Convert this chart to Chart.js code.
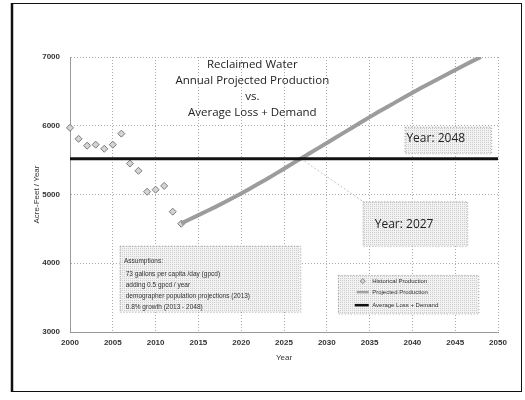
<!DOCTYPE html>
<html>
<head>
<meta charset="utf-8">
<script src="https://cdn.jsdelivr.net/npm/chart.js@4.4.1/dist/chart.umd.min.js"></script>
<style>
  html, body { margin: 0; padding: 0; background: #fff; }
  #wrap { width: 525px; height: 400px; position: relative; }
</style>
</head>
<body>
<div id="wrap"><canvas id="c" width="525" height="400"></canvas></div>
<script>
// Historical reclaimed water production (acre-feet / year)
const histYears = [2000, 2001, 2002, 2003, 2004, 2005, 2006, 2007, 2008, 2009, 2010, 2011, 2012, 2013];
const histValues = [5970, 5810, 5710, 5725, 5665, 5725, 5885, 5450, 5345, 5040, 5070, 5125, 4750, 4575];

// Projected production 2013 - 2048
const projYears = [2013, 2014, 2015, 2016, 2017, 2018, 2019, 2020, 2021, 2022, 2023, 2024,
                   2025, 2026, 2027, 2028, 2029, 2030, 2031, 2032, 2033, 2034, 2035, 2036,
                   2037, 2038, 2039, 2040, 2041, 2042, 2043, 2044, 2045, 2046, 2047, 2048];
const projValues = [4580, 4640, 4700, 4760, 4820, 4885, 4950, 5015, 5085, 5155, 5225, 5300,
                    5375, 5450, 5525, 5600, 5675, 5750, 5825, 5900, 5975, 6050, 6125, 6200,
                    6270, 6340, 6410, 6480, 6550, 6615, 6680, 6745, 6810, 6875, 6940, 7000];

// Average loss + demand (flat)
const demandYears = [2000, 2050];
const demandValues = [5520, 5520];

// Axis ticks
const xTicks = [2000, 2005, 2010, 2015, 2020, 2025, 2030, 2035, 2040, 2045, 2050];
const yTicks = [3000, 4000, 5000, 6000, 7000];

const seriesNames = ['Historical Production', 'Projected Production', 'Average Loss + Demand'];
const titleLines = ['Reclaimed Water', 'Annual Projected Production', 'vs.', 'Average Loss + Demand'];
const assumptionLines = [
  'Assumptions:',
  ' 73 gallons per capita /day (gpcd)',
  ' adding 0.5 gpcd / year',
  ' demographer population projections (2013)',
  ' 0.8% growth (2013 - 2048)'
];
const callout2048 = 'Year: 2048';
const callout2027 = 'Year: 2027';

const pts = (xs, ys) => xs.map((x, i) => ({ x: x, y: ys[i] }));

// Light stippled fill used for the note boxes
function stipple(ctx) {
  const p = document.createElement('canvas');
  p.width = 2; p.height = 2;
  const g = p.getContext('2d');
  g.fillStyle = '#f2f2f2'; g.fillRect(0, 0, 2, 2);
  g.fillStyle = '#cdcdcd'; g.fillRect(0, 0, 1, 1);
  return ctx.createPattern(p, 'repeat');
}

function box(ctx, sx, sy, x0, y0, x1, y1) {
  const l = sx.getPixelForValue(x0), r = sx.getPixelForValue(x1);
  const t = sy.getPixelForValue(y0), b = sy.getPixelForValue(y1);
  ctx.save();
  ctx.fillStyle = stipple(ctx);
  ctx.fillRect(l, t, r - l, b - t);
  ctx.setLineDash([1, 2]);
  ctx.strokeStyle = '#999';
  ctx.lineWidth = 1;
  ctx.strokeRect(l + 0.5, t + 0.5, r - l, b - t);
  ctx.restore();
}

const notes = {
  id: 'notes',
  beforeDraw(chart) {
    const ctx = chart.ctx;
    ctx.save();
    ctx.strokeStyle = '#111';
    ctx.lineWidth = 1;
    ctx.strokeRect(12.5, 3.5, 509, 388);
    ctx.lineWidth = 2.5;
    ctx.beginPath(); ctx.moveTo(12, 3); ctx.lineTo(12, 392); ctx.stroke();
    ctx.restore();
  },
  beforeDatasetsDraw(chart) {
    const ctx = chart.ctx, sx = chart.scales.x, sy = chart.scales.y;
    box(ctx, sx, sy, 2005.8, 4255, 2026.9, 3295);   // assumptions
    box(ctx, sx, sy, 2039.1, 5985, 2049.2, 5600);   // 2048 callout
    box(ctx, sx, sy, 2034.2, 4900, 2046.4, 4255);   // 2027 callout
    box(ctx, sx, sy, 2031.3, 3830, 2047.7, 3270);   // legend
    // leader from the crossing to the 2027 callout
    ctx.save();
    ctx.strokeStyle = '#c4c4c4';
    ctx.setLineDash([2, 2]);
    ctx.beginPath();
    ctx.moveTo(sx.getPixelForValue(2027), sy.getPixelForValue(5520));
    ctx.lineTo(sx.getPixelForValue(2034.2), sy.getPixelForValue(4900));
    ctx.stroke();
    ctx.restore();
  },
  afterDatasetsDraw(chart) {
    const ctx = chart.ctx, sx = chart.scales.x, sy = chart.scales.y;
    ctx.save();
    // title inside the plot
    ctx.fillStyle = '#222';
    ctx.textAlign = 'center';
    ctx.textBaseline = 'middle';
    ctx.font = '11.5px "Open Sans"';
    const ty = [6887, 6655, 6422, 6189];
    titleLines.forEach((s, i) => ctx.fillText(s, sx.getPixelForValue(2021.3), sy.getPixelForValue(ty[i])));

    // callouts
    ctx.textAlign = 'left';
    ctx.font = '12px "Open Sans"';
    ctx.fillStyle = '#222';
    ctx.fillText(callout2048, sx.getPixelForValue(2039.3), sy.getPixelForValue(5810));
    ctx.fillText(callout2027, sx.getPixelForValue(2035.6), sy.getPixelForValue(4560));

    // assumptions
    ctx.font = '6.5px "Liberation Sans"';
    ctx.fillStyle = '#333';
    const ay = [4036, 3847, 3687, 3527, 3367];
    assumptionLines.forEach((s, i) => ctx.fillText(s, sx.getPixelForValue(2006.3), sy.getPixelForValue(ay[i])));

    // legend
    const lx0 = sx.getPixelForValue(2033.5), lx1 = sx.getPixelForValue(2034.9), tx = sx.getPixelForValue(2035.3);
    const ly = [3740, 3580, 3390].map(v => sy.getPixelForValue(v));
    ctx.font = '6px "Liberation Sans"';
    ctx.fillStyle = '#333';
    seriesNames.forEach((s, i) => ctx.fillText(s, tx, ly[i]));
    // diamond marker
    const mx = (lx0 + lx1) / 2;
    ctx.fillStyle = '#d0d0d0'; ctx.strokeStyle = '#888'; ctx.lineWidth = 1;
    ctx.beginPath();
    ctx.moveTo(mx, ly[0] - 2.5); ctx.lineTo(mx + 2.5, ly[0]); ctx.lineTo(mx, ly[0] + 2.5); ctx.lineTo(mx - 2.5, ly[0]);
    ctx.closePath(); ctx.fill(); ctx.stroke();
    ctx.strokeStyle = '#a0a0a0'; ctx.lineWidth = 2.5;
    ctx.beginPath(); ctx.moveTo(lx0, ly[1]); ctx.lineTo(lx1, ly[1]); ctx.stroke();
    ctx.strokeStyle = '#111'; ctx.lineWidth = 2.5;
    ctx.beginPath(); ctx.moveTo(lx0 - 2, ly[2]); ctx.lineTo(lx1, ly[2]); ctx.stroke();
    ctx.restore();
  }
};

new Chart(document.getElementById('c'), {
  type: 'scatter',
  data: {
    datasets: [
      {
        label: seriesNames[2],
        data: pts(demandYears, demandValues),
        showLine: true,
        borderColor: '#111',
        borderWidth: 3,
        pointRadius: 0
      },
      {
        label: seriesNames[1],
        data: pts(projYears, projValues),
        showLine: true,
        borderColor: '#9c9c9c',
        borderWidth: 4,
        pointRadius: 0
      },
      {
        label: seriesNames[1] + ' (inner)',
        data: pts(projYears, projValues),
        showLine: true,
        borderColor: '#e2e2e2',
        borderWidth: 1.2,
        pointRadius: 0
      },
      {
        label: seriesNames[0],
        data: pts(histYears, histValues),
        showLine: false,
        clip: false,
        pointStyle: 'rectRot',
        pointRadius: 3.5,
        pointBackgroundColor: '#d4d4d4',
        pointBorderColor: '#7a7a7a',
        pointBorderWidth: 1
      }
    ]
  },
  options: {
    responsive: false,
    animation: false,
    layout: { padding: { left: 28, right: 27, top: 57, bottom: 33 } },
    plugins: {
      legend: { display: false },
      tooltip: { enabled: false }
    },
    scales: {
      x: {
        type: 'linear',
        min: 2000, max: 2050,
        afterBuildTicks(s) { s.ticks = xTicks.map(v => ({ value: v })); },
        afterFit(s) { s.height = 35; },
        grid: { color: '#aaa', lineWidth: 1, drawTicks: false },
        border: { display: true, color: '#999', dash: [1, 2] },
        ticks: { padding: 6, color: '#333', font: { family: 'Liberation Sans', size: 8, weight: 'bold' }, callback: v => String(v), maxRotation: 0 },
        title: { display: true, text: 'Year', color: '#333', font: { family: 'Liberation Sans', size: 8 } }
      },
      y: {
        min: 3000, max: 7000,
        afterBuildTicks(s) { s.ticks = yTicks.map(v => ({ value: v })); },
        afterFit(s) { s.width = 42; },
        grid: { color: '#aaa', lineWidth: 1, drawTicks: false },
        border: { display: true, color: '#999', dash: [1, 2] },
        ticks: { padding: 10, color: '#333', font: { family: 'Liberation Sans', size: 8, weight: 'bold' }, callback: v => String(v) },
        title: { display: true, text: 'Acre-Feet / Year', color: '#333', font: { family: 'Liberation Sans', size: 8 } }
      }
    }
  },
  plugins: [notes]
});
</script>
</body>
</html>
